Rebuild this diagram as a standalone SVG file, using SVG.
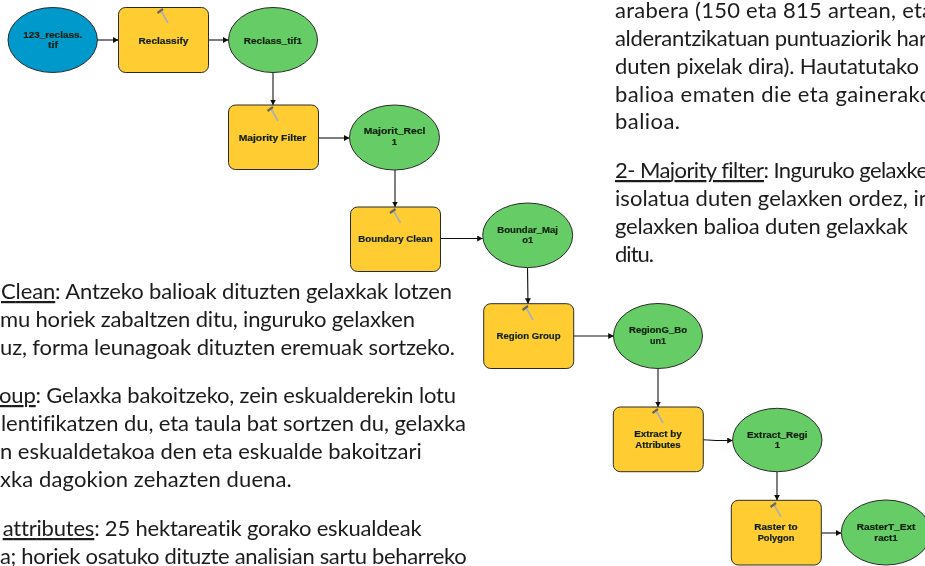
<svg xmlns="http://www.w3.org/2000/svg" xmlns:xlink="http://www.w3.org/1999/xlink" width="925" height="566" viewBox="0 0 925 566">
<style>
.bg{fill:#fff}
.t{fill:#FFCC33;stroke:#2a2a2a;stroke-width:1}
.g{fill:#66CC66;stroke:#2a2a2a;stroke-width:1}
.b{fill:#0099CC;stroke:#2a2a2a;stroke-width:1}
.l{font:bold 9.5px "Liberation Sans",Arial,sans-serif;fill:#102010;stroke:#102010;stroke-width:.2;text-anchor:middle}
.p{font:22px "Lato","Liberation Sans",sans-serif;fill:#1c1c1c;font-variant-ligatures:none}
.c{fill:none;stroke:#111;stroke-width:1.1;marker-end:url(#a)}
.u{text-decoration:underline}
</style>
<defs>
<marker id="a" markerUnits="userSpaceOnUse" markerWidth="7" markerHeight="7" refX="5.500" refY="3" orient="auto"><path d="M0 0L5.500 3L0 6Z" fill="#111"/></marker>
<g id="h"><path d="M4.500 3.500L11 15" stroke="#b0b0b0" stroke-width="1.800" fill="none"/><path d="M0.500 5L6 1" stroke="#666" stroke-width="2.200" fill="none"/></g>
<filter id="s" x="-2%" y="-2%" width="104%" height="104%"><feGaussianBlur stdDeviation="0.35"/></filter>
</defs>
<rect class="bg" width="925" height="566"/>
<g filter="url(#s)">
<g id="connectors">
<path class="c" d="M97 40H118.500"/>
<path class="c" d="M208.500 40H228.500"/>
<path class="c" d="M273 72.500V105"/>
<path class="c" d="M318.500 138H349.500"/>
<path class="c" d="M395 169.500V207"/>
<path class="c" d="M440.500 238.500H482.700"/>
<path class="c" d="M527.500 267.500L528 303.700"/>
<path class="c" d="M573.700 336H613.700"/>
<path class="c" d="M658 368.500V407"/>
<path class="c" d="M703.300 439.700L716 440.500H732.700"/>
<path class="c" d="M777 471.700V500.300"/>
<path class="c" d="M821.300 533H841.300"/>
</g>
<g id="n-123reclass"><ellipse class="b" cx="52.700" cy="40" rx="44.700" ry="32.500"/><text class="l" x="52.700" y="37.500" textLength="59" lengthAdjust="spacingAndGlyphs">123_reclass.</text><text class="l" x="53" y="48" textLength="10" lengthAdjust="spacingAndGlyphs">tif</text></g>
<g id="n-reclassify"><rect class="t" x="118.500" y="7.500" width="90" height="65" rx="7"/><use xlink:href="#h" x="157" y="8"/><text class="l" x="163.500" y="43.500" textLength="50" lengthAdjust="spacingAndGlyphs">Reclassify</text></g>
<g id="n-reclass-tif1"><ellipse class="g" cx="273" cy="40" rx="44.500" ry="32.500"/><text class="l" x="273" y="43.500" textLength="58.300" lengthAdjust="spacingAndGlyphs">Reclass_tif1</text></g>
<g id="n-majority-filter"><rect class="t" x="228.500" y="105" width="90" height="64.500" rx="7"/><use xlink:href="#h" x="267" y="106"/><text class="l" x="272.500" y="140.700" textLength="67.700" lengthAdjust="spacingAndGlyphs">Majority Filter</text></g>
<g id="n-majorit-recl"><ellipse class="g" cx="394.500" cy="137.500" rx="45" ry="32.500"/><text class="l" x="394.500" y="134.300" textLength="61.700" lengthAdjust="spacingAndGlyphs">Majorit_Recl</text><text class="l" x="394.500" y="145">1</text></g>
<g id="n-boundary-clean"><rect class="t" x="350.500" y="207" width="90" height="64.500" rx="7"/><use xlink:href="#h" x="389.500" y="208"/><text class="l" x="395.500" y="242.300" textLength="74.300" lengthAdjust="spacingAndGlyphs">Boundary Clean</text></g>
<g id="n-boundar-maj"><ellipse class="g" cx="527.700" cy="235.300" rx="45" ry="32.300"/><text class="l" x="527.700" y="232.700" textLength="60.700" lengthAdjust="spacingAndGlyphs">Boundar_Maj</text><text class="l" x="527.700" y="243.300" textLength="11" lengthAdjust="spacingAndGlyphs">o1</text></g>
<g id="n-region-group"><rect class="t" x="483.700" y="303.700" width="90" height="64.800" rx="7"/><use xlink:href="#h" x="522" y="305"/><text class="l" x="528.500" y="339.300" textLength="64" lengthAdjust="spacingAndGlyphs">Region Group</text></g>
<g id="n-regiong-boun"><ellipse class="g" cx="658" cy="336" rx="44.500" ry="32.500"/><text class="l" x="658" y="333.300" textLength="58" lengthAdjust="spacingAndGlyphs">RegionG_Bo</text><text class="l" x="658" y="344.300" textLength="16" lengthAdjust="spacingAndGlyphs">un1</text></g>
<g id="n-extract-attr"><rect class="t" x="613.300" y="407" width="90" height="64.700" rx="7"/><use xlink:href="#h" x="652" y="408"/><text class="l" x="658" y="436.700" textLength="47.700" lengthAdjust="spacingAndGlyphs">Extract by</text><text class="l" x="658" y="447.700" textLength="45.300" lengthAdjust="spacingAndGlyphs">Attributes</text></g>
<g id="n-extract-regi"><ellipse class="g" cx="777.300" cy="440" rx="44.700" ry="31.700"/><text class="l" x="777.300" y="437.700" textLength="60.700" lengthAdjust="spacingAndGlyphs">Extract_Regi</text><text class="l" x="777.300" y="448">1</text></g>
<g id="n-raster-polygon"><rect class="t" x="731.300" y="500.300" width="90" height="64.700" rx="7"/><use xlink:href="#h" x="770" y="502"/><text class="l" x="776" y="530" textLength="43.300" lengthAdjust="spacingAndGlyphs">Raster to</text><text class="l" x="776" y="541" textLength="36.700" lengthAdjust="spacingAndGlyphs">Polygon</text></g>
<g id="n-rastert-extract"><ellipse class="g" cx="886" cy="532.500" rx="44.700" ry="32.500"/><text class="l" x="886" y="530" textLength="58.700" lengthAdjust="spacingAndGlyphs">RasterT_Ext</text><text class="l" x="886" y="541" textLength="23.300" lengthAdjust="spacingAndGlyphs">ract1</text></g>
<g id="text-left">
<text class="p" x="1" y="299" textLength="451"><tspan class="u">Clean</tspan>: Antzeko balioak dituzten gelaxkak lotzen</text>
<text class="p" x="0" y="327" textLength="415">mu horiek zabaltzen ditu, inguruko gelaxken</text>
<text class="p" x="0" y="355" textLength="455">uz, forma leunagoak dituzten eremuak sortzeko.</text>
<text class="p" x="-1" y="403" textLength="457"><tspan class="u">oup</tspan>: Gelaxka bakoitzeko, zein eskualderekin lotu</text>
<text class="p" x="1" y="431" textLength="465">lentifikatzen du, eta taula bat sortzen du, gelaxka</text>
<text class="p" x="0" y="459" textLength="421.700">n eskualdetakoa den eta eskualde bakoitzari</text>
<text class="p" x="0" y="487" textLength="291.700">xka dagokion zehazten duena.</text>
<text class="p" x="2.700" y="536" textLength="419"><tspan class="u">attributes</tspan>: 25 hektareatik gorako eskualdeak</text>
<text class="p" x="0" y="564" textLength="466.700">a; horiek osatuko dituzte analisian sartu beharreko</text>
</g>
<g id="text-right">
<text class="p" x="615" y="18" textLength="318">arabera (150 eta 815 artean, eta</text>
<text class="p" x="615" y="46" textLength="312">alderantzikatuan puntuaziorik har</text>
<text class="p" x="615" y="74" textLength="321">duten pixelak dira). Hautatutako e</text>
<text class="p" x="615" y="101.500" textLength="317">balioa ematen die eta gainerako</text>
<text class="p" x="615" y="129" textLength="65">balioa.</text>
<text class="p" x="615" y="178" textLength="313"><tspan class="u">2- Majority filter</tspan>: Inguruko gelaxke</text>
<text class="p" x="615" y="206" textLength="316">isolatua duten gelaxken ordez, in</text>
<text class="p" x="615" y="234" textLength="293">gelaxken balioa duten gelaxkak</text>
<text class="p" x="615" y="261.500" textLength="39">ditu.</text>
</g>
</g>
</svg>
